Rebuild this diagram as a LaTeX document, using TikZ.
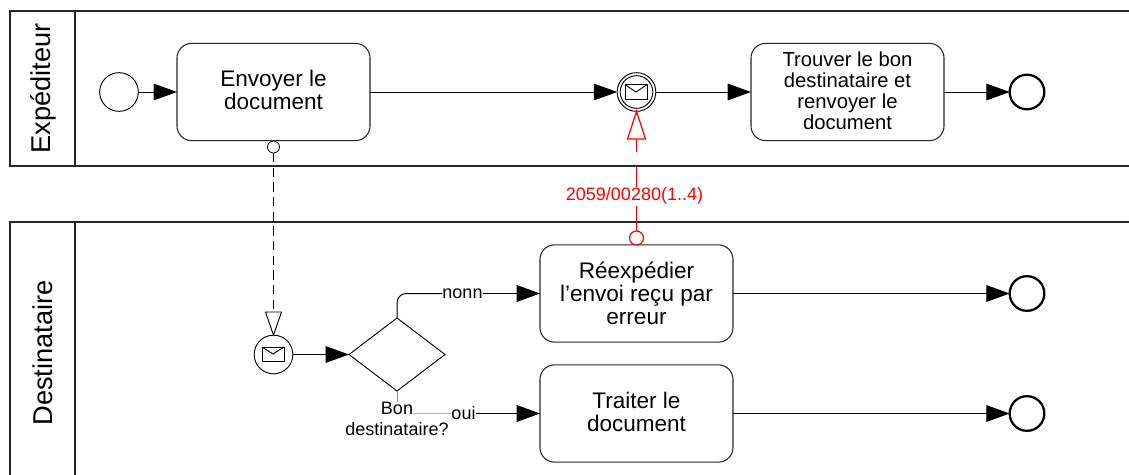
\documentclass[tikz,border=0pt]{standalone}
\usepackage{fontspec}
\setmainfont{Liberation Sans}
\usetikzlibrary{arrows.meta,calc}
\newcommand{\lowpad}[1]{\rule[-#1]{0pt}{#1}}
\tikzset{
  x=0.75pt,y=-0.75pt,
  every node/.style={inner sep=0pt,outer sep=0pt,align=center},
  lane/.style={draw=black!85,line width=1.1pt},
  lanetext/.style={font=\fontsize{20.4}{24}\selectfont,rotate=90},
  task/.style={draw=black!85,line width=0.8pt,rounded corners=11pt,minimum width=144.75pt,minimum height=73pt,font=\fontsize{16.9}{17.3}\selectfont},
  tasksmall/.style={task,font=\fontsize{15.2}{15.9}\selectfont},
  evt/.style={circle,draw=black,line width=0.7pt,minimum size=29pt},
  endevt/.style={circle,draw=black,line width=1.7pt,minimum size=26pt},
  gate/.style={draw=black,line width=0.7pt},
  flow/.style={draw=black,line width=0.75pt,-{Triangle[length=17.5pt,width=12.5pt]}},
  plainflow/.style={draw=black,line width=0.75pt},
  msg/.style={draw=black,line width=0.7pt,dash pattern=on 7pt off 4pt},
  lbl/.style={font=\fontsize{13.5}{15.9}\selectfont},
  envelope/.style={draw=black,line width=0.7pt},
}
\begin{document}
\begin{tikzpicture}
\useasboundingbox (0,0) rectangle (1129,475);
\begin{scope}
\clip (0,0) rectangle (1129,475);
% lanes
\draw[lane] (1135,11) -- (10,11) -- (10,166) -- (1135,166);
\draw[lane] (75,11) -- (75,166);
\draw[lane] (1135,222) -- (10,222) -- (10,480);
\draw[lane] (75,222) -- (75,480);
\end{scope}
\node[lanetext] (l1) at (43,88.5) {Expéditeur};
\node[lanetext] (l2) at (43,353) {Destinataire};
% first lane
\node[evt] (start) at (119,92) {};
\node[task] (t1) at (273.5,92) {Envoyer le\\document\lowpad{3pt}};
\node[evt] (ie) at (636.5,92) {};
\node[circle,draw=black,line width=0.7pt,minimum size=24.5pt] (ie2) at (636.5,92) {};
\node[tasksmall] (t2) at (847.5,92) {Trouver le bon\\destinataire et\\renvoyer le\\document\lowpad{2.2pt}};
\node[endevt] (e1) at (1027,92) {};
\draw[flow] (start) -- (t1);
\draw[flow] (t1) -- (ie);
\draw[flow] (ie) -- (t2);
\draw[flow] (t2) -- (e1);
% envelope top
\node[envelope,minimum width=16.5pt,minimum height=11pt] (m1) at (636,92) {};
\draw[envelope] (m1.north west) -- (m1.center) -- (m1.north east);
% second lane
\node[evt] (ce) at (273.5,354.5) {};
\node[envelope,minimum width=16.5pt,minimum height=10.5pt] (m2) at (273,354) {};
\draw[envelope] (m2.north west) -- (m2.center) -- (m2.north east);
\draw[gate] (349,354.5) coordinate (gw) -- (397,318) coordinate (gn) -- (445,354.5) coordinate (ge) -- (397,391) coordinate (gs) -- cycle;
\node[task] (t3) at (636.5,293.5) {Réexpédier\\l’envoi reçu par\\erreur};
\node[task] (t4) at (636.5,413.5) {Traiter le\\document\lowpad{2.2pt}};
\node[endevt] (e2) at (1027,293.5) {};
\node[endevt] (e3) at (1027,413.5) {};
\draw[flow] (ce) -- (gw);
\draw[flow] (t3) -- (e2);
\draw[flow] (t4) -- (e3);
% nonn
\node[lbl] (nonn) at (462.5,293.5) {nonn};
\draw[plainflow,rounded corners=7pt] (gn) -- (397,293.5) -- (nonn.west);
\draw[flow] (nonn.east) -- (t3.west);
% oui
\node[lbl] (oui) at (463.5,413.5) {oui};
\node[lbl] (bon) at (397,419) {Bon\\destinataire?};
\draw[draw=black!45,line width=0.5pt] (gs) -- (397,402);
\draw[draw=black!30,line width=0.6pt] (413,413.5) -- (oui.west);
\draw[flow] (oui.east) -- (t4.west);
% message flow black
\node[circle,draw=black,fill=white,line width=0.6pt,minimum size=9pt] (s1) at (273.5,147) {};
\draw[msg] (s1) -- (273.5,312) coordinate (mt);
\draw[draw=black,line width=0.7pt,fill=white] (mt) ++(-8,0) -- ++(16,0) -- (ce.north) -- cycle;
% message flow red
\node[circle,draw=red,line width=0.9pt,fill=white,minimum size=10.5pt] (s2) at (636.5,238) {};
\node[lbl,text=red] (rl) at (634.5,196) {2059/00280(1..4)};
\coordinate (rb) at (636.5,139);
\draw[red,line width=0.9pt,fill=white] (627.5,139) -- (645.5,139) -- (ie.south) -- cycle;
\draw[red,line width=0.9pt] (rb) -- (636.5,152);
\draw[red,line width=0.9pt] (636.5,167) -- (636.5,187);
\draw[red,line width=0.9pt] (636.5,206) -- (s2.north);
\end{tikzpicture}
\end{document}
